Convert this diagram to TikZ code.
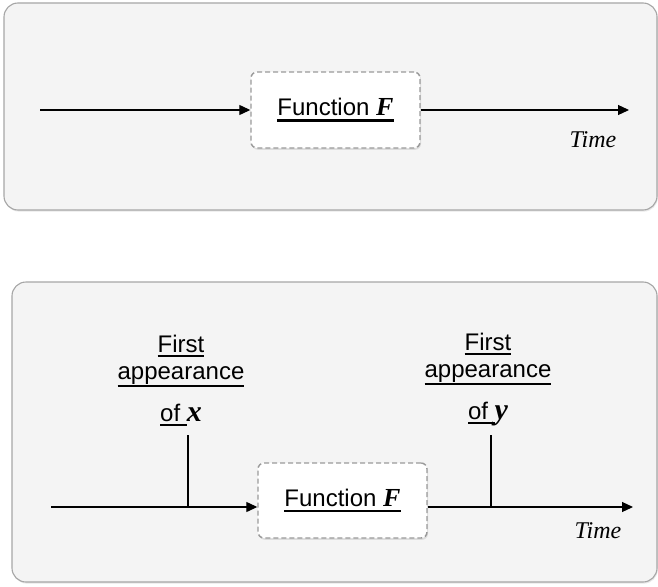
\documentclass[tikz,border=0pt]{standalone}
\usepackage{fontspec}
\setmainfont{Liberation Sans}
\newfontfamily\serifface{Liberation Serif}
\usetikzlibrary{arrows.meta,shadows}

\definecolor{panelfill}{HTML}{F4F4F4}
\definecolor{panelline}{HTML}{A6A6A6}
\definecolor{dashline}{HTML}{9A9A9A}

% underline placed a little below the baseline, lower for descenders
\newcommand\ulword[2][1.9pt]{\setbox0\hbox{#2}\rlap{\rule[\dimexpr-3.2pt-0.6\dp0-#1\relax]{\wd0}{#1}}\box0}
\newcommand\varbi[2][30pt]{{\serifface\bfseries\itshape\fontsize{#1}{#1}\selectfont #2}}

\begin{document}
\begin{tikzpicture}[x=1pt,y=-1pt,
  panel/.style={draw=panelline, fill=panelfill, line width=1.1pt, rounded corners=14pt,
    drop shadow={opacity=0.18, shadow xshift=0.8pt, shadow yshift=-1.6pt}},
  fbox/.style={draw=dashline, fill=white, line width=1.4pt, dash pattern=on 5pt off 3pt,
    rounded corners=6pt, minimum width=169pt, minimum height=76pt, inner sep=0pt,
    font=\fontsize{24}{28}\selectfont,
    drop shadow={opacity=0.2, shadow xshift=1pt, shadow yshift=-1.8pt}},
  arr/.style={line width=1.2pt, -{Triangle[length=11pt,width=10pt]}},
  tick/.style={line width=1.2pt},
  lbl/.style={anchor=base, inner sep=0pt, font=\fontsize{24}{28}\selectfont},
  timelbl/.style={anchor=base, inner sep=0pt, font=\serifface\itshape\fontsize{24}{28}\selectfont}
]
\useasboundingbox (0,0) rectangle (658,586);

% ---------- upper panel ----------
\path[panel] (4,3) rectangle (657,210);
\node[fbox] (f1) at (335.5,110) {\ulword[2.3pt]{Function \varbi[26pt]{F}}};
\coordinate (in1) at (40,110);
\coordinate (out1) at (629,110);
\draw[arr] (in1) -- (f1.west);
\draw[arr] (f1.east) -- (out1);
\node[timelbl] (time1) at (593,147) {Time};

% ---------- lower panel ----------
\path[panel] (12,282) rectangle (657,582);
\node[fbox, minimum height=75pt] (f2) at (342.5,500.5) {\ulword[2.3pt]{Function \varbi[26pt]{F}}};
\coordinate (in2) at (51,507);
\coordinate (out2) at (633,507);
\draw[arr] (in2) -- (in2 -| f2.west);
\draw[arr] (f2.east |- in2) -- (out2);
\node[timelbl] (time2) at (598,538) {Time};

% markers on the time axis
\coordinate (tx) at (188,435);
\coordinate (ty) at (491,435);
\draw[tick] (tx) -- (tx |- in2);
\draw[tick] (ty) -- (ty |- in2);

% label for x
\node[lbl] (x1) at (181,352) {\ulword{First}};
\node[lbl] (x2) at (181,379) {\ulword{appearance}};
\node[lbl] (x3) at (181,421) {\ulword{of\ }\varbi{x}};

% label for y
\node[lbl] (y1) at (488,350) {\ulword{First}};
\node[lbl] (y2) at (488,377) {\ulword{appearance}};
\node[lbl] (y3) at (488,419) {\ulword{of\ }\varbi{y}};
\end{tikzpicture}
\end{document}
